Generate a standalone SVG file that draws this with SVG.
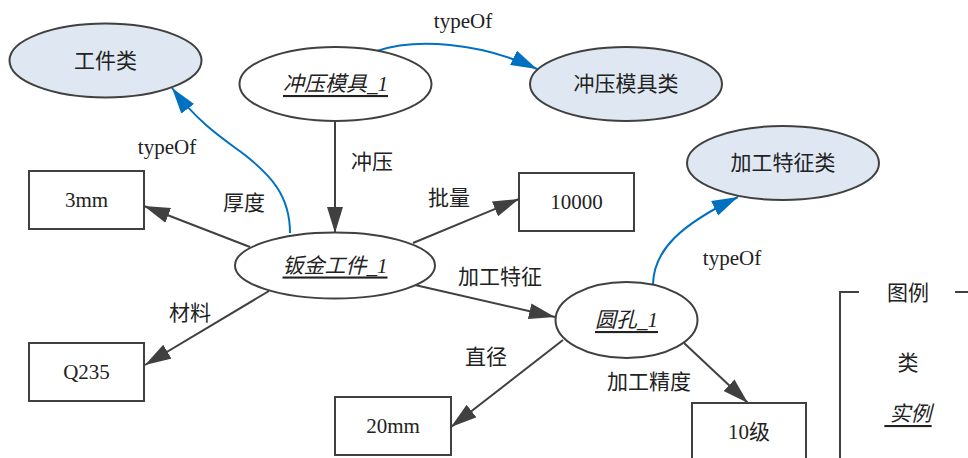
<svg xmlns="http://www.w3.org/2000/svg" width="968" height="458" viewBox="0 0 968 458">
<defs>
<style>
.cls ellipse{fill:#dfe8f2;stroke:#404040;stroke-width:2}
.inst ellipse{fill:#fff;stroke:#404040;stroke-width:2}
.lit rect{fill:#fff;stroke:#404040;stroke-width:2}
text{font-family:"Liberation Serif","Noto Sans CJK SC",serif;font-size:21px;fill:#222;text-anchor:middle;dominant-baseline:central}
.inst text,.it{font-style:italic;text-decoration:underline}
.e{fill:none;stroke:#404040;stroke-width:2;marker-end:url(#ad)}
.t{fill:none;stroke:#0070c0;stroke-width:2;marker-end:url(#ab)}
.lg{fill:none;stroke:#404040;stroke-width:2}
</style>
<marker id="ad" markerUnits="userSpaceOnUse" markerWidth="28" markerHeight="18" refX="26" refY="8" orient="auto"><path d="M0,0 L26,8 L0,16 z" fill="#404040"/></marker>
<marker id="ab" markerUnits="userSpaceOnUse" markerWidth="28" markerHeight="18" refX="26" refY="8" orient="auto"><path d="M0,0 L26,8 L0,16 z" fill="#0070c0"/></marker>
</defs>
<rect width="968" height="458" fill="#fff"/>
<g id="edges">
<path class="e" d="M335,121 L335,233"/>
<path class="e" d="M250,247 L144,206"/>
<path class="e" d="M413,243 L519,199"/>
<path class="e" d="M269,291 L145,365"/>
<path class="e" d="M415,285 L555,317"/>
<path class="e" d="M563,340 L451,427"/>
<path class="e" d="M684,343 L748,403"/>
<path class="t" d="M290,233 C290,195 270,175 245,155 C225,140 200,125 172,88"/>
<path class="t" d="M377,51 C415,38 480,42 537,69"/>
<path class="t" d="M653,284 C654,250 680,225 738,197"/>
<text x="372" y="162">冲压</text>
<text x="244" y="203">厚度</text>
<text x="449" y="198">批量</text>
<text x="190" y="313">材料</text>
<text x="500" y="277">加工特征</text>
<text x="486" y="357">直径</text>
<text x="649" y="382">加工精度</text>
<text x="167" y="147">typeOf</text>
<text x="463" y="21">typeOf</text>
<text x="732" y="258">typeOf</text>
</g>
<g id="n_gjl" class="cls"><ellipse cx="105.5" cy="60.5" rx="96" ry="37"/><text x="105.5" y="60.5">工件类</text></g>
<g id="n_cymj1" class="inst"><ellipse cx="335.5" cy="84" rx="96" ry="37"/><text x="335.5" y="84">冲压模具_1</text></g>
<g id="n_cymjl" class="cls"><ellipse cx="626" cy="84" rx="96" ry="37"/><text x="626" y="84">冲压模具类</text></g>
<g id="n_jgtzl" class="cls"><ellipse cx="783" cy="163" rx="96" ry="37"/><text x="783" y="163">加工特征类</text></g>
<g id="n_3mm" class="lit"><rect x="29" y="171" width="115" height="58"/><text x="86.5" y="200">3mm</text></g>
<g id="n_10000" class="lit"><rect x="519" y="173" width="115" height="58"/><text x="576.5" y="202">10000</text></g>
<g id="n_bjgj1" class="inst"><ellipse cx="335" cy="265.5" rx="100" ry="33"/><text x="335" y="265.5">钣金工件_1</text></g>
<g id="n_q235" class="lit"><rect x="29" y="343" width="115" height="58"/><text x="86.5" y="372">Q235</text></g>
<g id="n_yk1" class="inst"><ellipse cx="626.5" cy="320" rx="71" ry="38"/><text x="626.5" y="320">圆孔_1</text></g>
<g id="n_20mm" class="lit"><rect x="335" y="397" width="116" height="58"/><text x="393" y="426">20mm</text></g>
<g id="n_10j" class="lit"><rect x="692" y="403" width="114" height="62"/><text x="749" y="432">10级</text></g>
<g id="legend">
<path class="lg" d="M859,292 L840,292 L840,460"/>
<path class="lg" d="M955,292 L970,292"/>
<text x="908" y="293">图例</text>
<text x="908" y="363">类</text>
<text class="it" x="908" y="414" xml:space="preserve"> 实例</text>
</g>
</svg>
